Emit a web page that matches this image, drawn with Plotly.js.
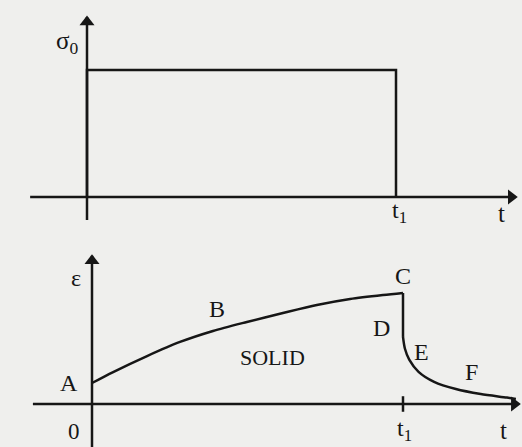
<!DOCTYPE html>
<html>
<head>
<meta charset="utf-8">
<script src="https://cdn.plot.ly/plotly-3.0.1.min.js"></script>
<style>
  html, body { margin: 0; padding: 0; background: #efefed; }
  #chart { width: 522px; height: 447px; }
</style>
</head>
<body>
<div id="chart"></div>
<script>
// Top panel: applied stress (step load removed at t1)
const stressT = [0, 0, 1, 1];
const stressS = [0, 1, 1, 0];

// Bottom panel: strain response of a solid
const creepT = [0, 0.068, 0.177, 0.283, 0.389, 0.498, 0.614, 0.723, 0.830, 0.936, 1.0];
const creepE = [0.189, 0.288, 0.432, 0.559, 0.658, 0.739, 0.820, 0.892, 0.946, 0.982, 1.0];
const dropT = [1.0, 1.0];
const dropE = [1.0, 0.604];
const recoverT = [1.0, 1.006, 1.02, 1.05, 1.1, 1.17, 1.25, 1.334, 1.363];
const recoverE = [0.604, 0.50, 0.40, 0.29, 0.20, 0.135, 0.09, 0.058, 0.045];

// Axis extents (start, arrow tip)
const topTimeAxis = [-0.184, 1.385];
const topStressAxis = [-0.181, 1.417];
const botTimeAxis = [-0.190, 1.370];
const botStrainAxis = [-0.40, 1.335];

// Region labels on the strain curve
const regionLabels = ['A', 'B', 'C', 'D', 'E', 'F', 'SOLID'];
const regionT = [-0.075, 0.402, 1.0, 0.93, 1.06, 1.22, 0.579];
const regionE = [0.189, 0.858, 1.15, 0.685, 0.47, 0.29, 0.415];

const ink = '#161616';
const serif = 'Liberation Serif, Times New Roman, serif';

function line(x, y, xa, ya, shape) {
  return {
    x: x, y: y, xaxis: xa, yaxis: ya,
    type: 'scatter', mode: 'lines',
    line: { color: ink, width: 2.5, shape: shape || 'linear', smoothing: 0.8 },
    hoverinfo: 'skip', showlegend: false, cliponaxis: false
  };
}

function head(x, y, xa, ya, symbol) {
  return {
    x: [x], y: [y], xaxis: xa, yaxis: ya,
    type: 'scatter', mode: 'markers',
    marker: { symbol: symbol, size: 13, color: ink },
    hoverinfo: 'skip', showlegend: false, cliponaxis: false
  };
}

const traces = [
  line(topTimeAxis, [0, 0], 'x', 'y'),
  line([0, 0], topStressAxis, 'x', 'y'),
  line(stressT, stressS, 'x', 'y'),
  line(botTimeAxis, [0, 0], 'x2', 'y2'),
  line([0, 0], botStrainAxis, 'x2', 'y2'),
  line([1, 1], [-0.07, 0.07], 'x2', 'y2'),
  line(creepT, creepE, 'x2', 'y2', 'spline'),
  line(dropT, dropE, 'x2', 'y2'),
  line(recoverT, recoverE, 'x2', 'y2', 'spline'),
  head(topTimeAxis[1] - 0.012, 0, 'x', 'y', 'triangle-right'),
  head(0, topStressAxis[1] - 0.04, 'x', 'y', 'triangle-up'),
  head(botTimeAxis[1] - 0.012, 0, 'x2', 'y2', 'triangle-right'),
  head(0, botStrainAxis[1] - 0.045, 'x2', 'y2', 'triangle-up')
];

function label(text, x, y, xa, ya, size) {
  return {
    text: text, x: x, y: y, xref: xa, yref: ya,
    showarrow: false,
    font: { family: serif, size: size || 24, color: ink }
  };
}

const annotations = [
  label('σ<sub>0</sub>', -0.065, 1.22, 'x', 'y', 25),
  label('t<sub>1</sub>', 1.01, -0.12, 'x', 'y', 24),
  label('t', 1.34, -0.13, 'x', 'y', 25),
  label('ε', -0.052, 1.135, 'x2', 'y2', 24),
  label('0', -0.058, -0.25, 'x2', 'y2', 23),
  label('t<sub>1</sub>', 1.005, -0.23, 'x2', 'y2', 24),
  label('t', 1.322, -0.24, 'x2', 'y2', 25)
];
regionLabels.forEach((txt, i) => {
  annotations.push(label(txt, regionT[i], regionE[i], 'x2', 'y2', txt === 'SOLID' ? 22 : 24));
});

const hidden = { visible: false, fixedrange: true };

const layout = {
  width: 522,
  height: 447,
  margin: { l: 0, r: 0, t: 0, b: 0 },
  paper_bgcolor: '#efefed',
  plot_bgcolor: '#efefed',
  showlegend: false,
  xaxis: Object.assign({ range: [-0.28155, 1.40777] }, hidden),
  yaxis: Object.assign({ range: [-1.9685, 1.5512] }, hidden),
  xaxis2: Object.assign({ range: [-0.29582, 1.38264], overlaying: 'x' }, hidden),
  yaxis2: Object.assign({ range: [-0.38739, 3.63964], overlaying: 'y' }, hidden),
  annotations: annotations
};

Plotly.newPlot('chart', traces, layout, { staticPlot: true });
</script>
</body>
</html>
